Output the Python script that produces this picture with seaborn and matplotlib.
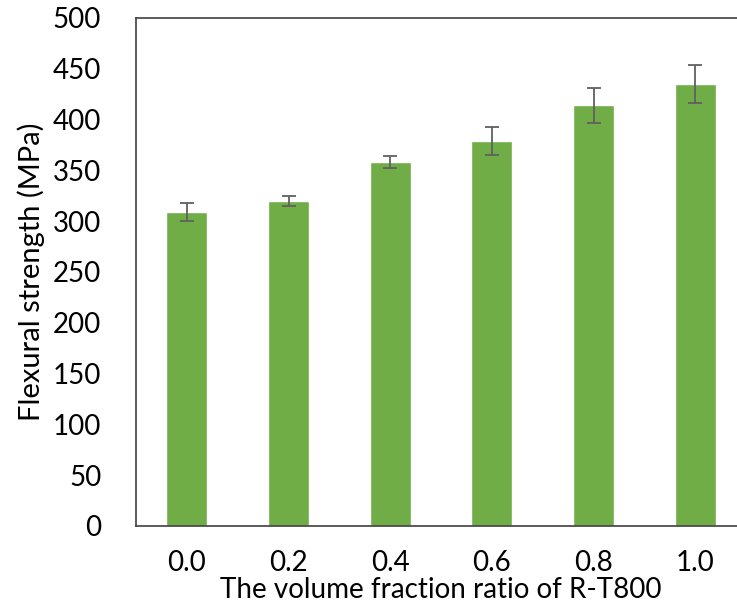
import matplotlib
matplotlib.use("Agg")
import matplotlib.pyplot as plt
import pandas as pd
import seaborn as sns

ratios = ["0.0", "0.2", "0.4", "0.6", "0.8", "1.0"]
strength = [309, 320, 358, 379, 414, 435]
err = [9, 5, 6, 14, 17, 19]

sns.set_style("white")
plt.rcParams["font.family"] = ["Lato", "DejaVu Sans"]

df = pd.DataFrame({"ratio": ratios, "strength": strength})

fig = plt.figure(figsize=(7.37, 6.12), dpi=100)
ax = fig.add_axes([136 / 737, 1 - 526 / 612, 610 / 737, 508 / 612])

sns.barplot(data=df, x="ratio", y="strength", color="#70AD47",
            saturation=1, width=0.4, errorbar=None, ax=ax)
ax.errorbar(range(len(ratios)), strength, yerr=err, fmt="none",
            ecolor="#606060", elinewidth=1.3, capsize=5, capthick=1.3)

ax.set_xlim(-0.5, 5.5)
ax.set_ylim(0, 500)
ax.set_yticks(range(0, 501, 50))
ax.tick_params(axis="both", length=0, labelsize=20, labelcolor="black")
ax.tick_params(axis="y", pad=25)
ax.tick_params(axis="x", pad=17)
for s in ax.spines.values():
    s.set_color("#404040")
    s.set_linewidth(1.2)

ax.set_xlabel("The volume fraction ratio of R-T800", fontsize=20,
              labelpad=1, color="black")
ax.set_ylabel("Flexural strength (MPa)", fontsize=21, labelpad=6,
              color="black")

fig.savefig("out.png", dpi=100)
